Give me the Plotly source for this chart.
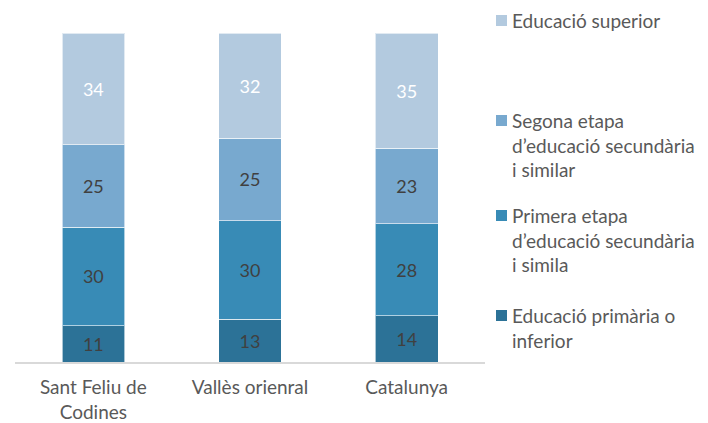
import plotly.graph_objects as go

categories = ["Sant Feliu de<br>Codines", "Vallès orienral", "Catalunya"]
series_names = [
    "Educació primària o<br>inferior",
    "Primera etapa<br>d’educació secundària<br>i simila",
    "Segona etapa<br>d’educació secundària<br>i similar",
    "Educació superior",
]
primaria = [11, 13, 14]
primera = [30, 30, 28]
segona = [25, 25, 23]
superior = [34, 32, 35]

values = [primaria, primera, segona, superior]
colors = ["#2C7297", "#388BB6", "#78A9CF", "#B3CADF"]
text_colors = ["#404040", "#404040", "#404040", "#FFFFFF"]

FONT = "Lato"
W, H = 708, 423
L, R, T, B = 15, 223, 33, 61

fig = go.Figure()
for name, vals, col, tcol in zip(series_names, values, colors, text_colors):
    fig.add_trace(go.Bar(
        x=categories, y=vals, name=name,
        marker=dict(color=col, line=dict(color="rgba(255,255,255,0.6)", width=1)),
        text=[str(v) for v in vals], textposition="inside",
        insidetextanchor="middle", textangle=0,
        textfont=dict(family=FONT, size=18, color=tcol),
        showlegend=False, hoverinfo="skip",
    ))

pw = W - L - R
ph = H - T - B

def px(x):
    return (x - L) / pw

def py(y):
    return (H - B - y) / ph

legend_y = [315, 215, 120, 20]
annotations = []
shapes = []
for name, col, ly in zip(series_names, colors, legend_y):
    annotations.append(dict(
        x=px(510), y=py(ly - 13), xref="paper", yref="paper",
        xanchor="left", yanchor="top", align="left",
        text=name, showarrow=False,
        font=dict(family=FONT, size=19, color="#595959"),
    ))
    shapes.append(dict(
        type="rect", xref="paper", yref="paper",
        x0=px(496), x1=px(507), y0=py(ly + 6), y1=py(ly - 5),
        fillcolor=col, line=dict(width=0),
    ))

fig.update_layout(
    width=W, height=H,
    margin=dict(l=L, r=R, t=T, b=B, autoexpand=False),
    barmode="stack", bargap=0.6,
    plot_bgcolor="white", paper_bgcolor="white",
    font=dict(family=FONT, size=19, color="#595959"),
    xaxis=dict(showgrid=False, showline=True, linecolor="#D9D9D9", linewidth=2,
               ticks="", automargin=False, ticklabelstandoff=7,
               tickfont=dict(family=FONT, size=19, color="#595959")),
    yaxis=dict(range=[0, 100], visible=False),
    annotations=annotations, shapes=shapes,
    uniformtext=dict(minsize=18, mode="show"),
)

fig.write_html("out.html", config={"displayModeBar": False},
               post_script="document.body.style.margin='0';")
